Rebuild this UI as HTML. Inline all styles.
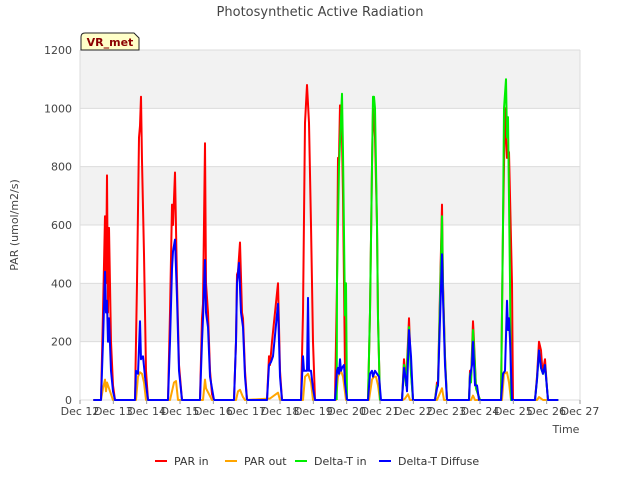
<!DOCTYPE html>
<html><head><meta charset="utf-8"><style>
body{margin:0;background:#fff;font-family:"Liberation Sans",sans-serif}
svg text{font-family:"DejaVu Sans","Liberation Sans",sans-serif}
</style></head><body>
<svg id="chart" width="640" height="480" xmlns="http://www.w3.org/2000/svg">
<rect x="0" y="0" width="640" height="480" fill="#fff"/>
<g id="bands"></g><g id="grid"></g><g id="series"></g><g id="axes"></g>
<text x="320" y="16" text-anchor="middle" font-size="13" fill="#444">Photosynthetic Active Radiation</text>
<text transform="translate(18,225) rotate(-90)" text-anchor="middle" font-size="11" fill="#444">PAR (umol/m2/s)</text>
<text x="566" y="433" text-anchor="middle" font-size="11" fill="#444">Time</text>
<g>
<path d="M81,50 L81,37 Q81,33 85,33 L134,33 L139,38 L139,50 Z" fill="#ffffc8" stroke="#222" stroke-width="1"/>
<text x="110" y="46" text-anchor="middle" font-size="11" font-weight="bold" fill="#8b0000">VR_met</text>
</g>
<g id="legend"></g>
</svg>
<script>
const yTicks=[0,200,400,600,800,1000,1200];
const xTickDays=[12,13,14,15,16,17,18,19,20,21,22,23,24,25,26,27];
const xTickLabels=["Dec 12","Dec 13","Dec 14","Dec 15","Dec 16","Dec 17","Dec 18","Dec 19","Dec 20","Dec 21","Dec 22","Dec 23","Dec 24","Dec 25","Dec 26","Dec 27"];
const seriesNames=["PAR in","PAR out","Delta-T in","Delta-T Diffuse"];
const seriesColors=["#ff0000","#ffa500","#00ee00","#0000ff"];
const parInT=[12.4,12.63,12.69,12.75,12.78,12.81,12.84,12.87,12.93,12.99,13.05,13.65,13.71,13.77,13.80,13.83,13.86,13.92,13.98,14.04,14.64,14.70,14.76,14.79,14.85,14.91,14.97,15.06,15.60,15.66,15.69,15.75,15.78,15.84,15.90,15.96,16.02,16.62,16.68,16.71,16.74,16.80,16.86,16.89,16.95,17.01,17.61,17.67,17.70,17.76,17.85,17.94,18.00,18.06,18.63,18.69,18.75,18.81,18.87,18.93,18.99,19.05,19.65,19.71,19.74,19.77,19.80,19.86,19.89,19.95,20.01,20.64,20.70,20.76,20.79,20.82,20.85,20.91,20.94,21.00,21.66,21.72,21.75,21.78,21.84,21.87,21.93,21.99,22.65,22.71,22.74,22.86,22.89,22.95,23.01,23.67,23.70,23.73,23.79,23.82,23.88,23.94,24.00,24.63,24.69,24.75,24.81,24.87,24.93,24.96,24.99,25.65,25.71,25.77,25.83,25.86,25.89,25.95,26.01,26.04,26.35];
const parInV=[0,0,300,630,400,770,300,590,200,50,0,0,400,900,940,1040,820,500,100,0,0,300,670,600,780,400,120,0,0,280,330,880,400,300,100,20,0,0,200,430,440,540,300,280,100,0,0,150,120,200,300,400,100,0,0,300,950,1080,950,600,200,0,0,400,830,830,1010,900,700,100,0,0,300,800,1000,960,900,600,280,0,0,140,100,50,200,280,100,0,0,60,60,670,400,150,0,0,100,70,270,200,40,20,0,0,600,1000,830,850,550,400,0,0,80,200,170,120,100,140,40,0,0];
const parOutT=[12.4,12.63,12.69,12.75,12.78,12.81,12.87,12.93,12.99,13.68,13.74,13.80,13.86,13.92,13.98,14.70,14.76,14.82,14.88,14.94,15.69,15.75,15.78,15.87,15.96,16.68,16.74,16.80,16.89,16.95,17.70,17.94,18.00,18.69,18.75,18.84,18.93,18.99,19.68,19.74,19.83,19.89,19.98,20.67,20.76,20.82,20.88,20.94,21.00,21.69,21.75,21.84,21.90,22.71,22.86,22.92,23.73,23.79,23.85,24.66,24.72,24.81,24.87,24.93,25.71,25.77,25.83,25.89,26.35];
const parOutV=[0,0,40,70,30,60,40,20,0,0,80,95,90,60,0,0,30,60,65,0,0,70,40,20,0,0,30,35,10,0,5,25,0,0,80,90,60,0,0,80,100,80,0,0,70,80,80,50,0,0,5,20,0,0,40,0,0,15,0,0,90,95,60,0,0,10,5,0,0];
const dtInT=[19.7,19.71,19.77,19.86,19.89,19.95,19.98,20.01,20.64,20.70,20.76,20.79,20.82,20.85,20.91,20.94,21.00,21.66,21.72,21.75,21.78,21.84,21.87,21.93,21.99,22.65,22.71,22.74,22.86,22.89,22.95,23.01,23.67,23.70,23.73,23.79,23.82,23.88,23.94,24.00,24.63,24.69,24.72,24.78,24.81,24.84,24.90,24.93,25.65,25.71,25.77,25.83,25.89,25.95,26.01,26.04,26.35];
const dtInV=[0,400,800,1050,850,290,400,0,0,300,800,1040,1040,1000,600,280,0,0,120,90,50,180,250,90,0,0,50,50,630,380,140,0,0,90,60,240,180,40,20,0,0,600,1000,1100,900,970,400,0,0,70,170,110,90,120,40,0,0];
const dtDifT=[12.4,12.63,12.69,12.75,12.78,12.81,12.84,12.87,12.93,12.99,13.05,13.65,13.68,13.74,13.80,13.83,13.89,13.95,14.04,14.64,14.70,14.76,14.79,14.85,14.91,14.97,15.06,15.60,15.66,15.69,15.75,15.78,15.84,15.90,16.02,16.62,16.68,16.71,16.77,16.83,16.89,16.95,17.01,17.61,17.67,17.73,17.79,17.94,18.00,18.06,18.63,18.69,18.72,18.81,18.84,18.87,18.93,18.99,19.05,19.65,19.71,19.74,19.77,19.80,19.83,19.86,19.92,19.95,20.01,20.64,20.70,20.76,20.79,20.85,20.91,20.97,21.03,21.66,21.72,21.78,21.81,21.87,21.93,21.99,22.65,22.71,22.74,22.86,22.89,22.95,23.01,23.67,23.70,23.76,23.79,23.85,23.91,23.97,24.63,24.69,24.75,24.81,24.84,24.87,24.90,24.96,25.65,25.71,25.77,25.83,25.89,25.95,26.01,26.04,26.35];
const dtDifV=[0,0,200,440,300,340,200,280,100,30,0,0,100,90,270,140,150,80,0,0,200,450,510,550,350,100,0,0,200,280,480,300,250,80,0,0,200,400,470,300,250,80,0,0,120,130,150,330,80,0,0,150,100,100,350,100,100,40,0,0,100,110,90,140,100,110,120,60,0,0,90,100,80,100,90,80,0,0,110,70,30,240,150,0,0,40,50,500,350,120,0,0,80,120,200,50,50,0,0,90,100,340,240,280,210,0,0,70,170,110,90,120,40,0,0];
const X0=80,X1=580,Y0=400,Y1=50,DMIN=12,DMAX=27,VMAX=1200;
const xs=d=>X0+(d-DMIN)/(DMAX-DMIN)*(X1-X0);
const ys=v=>Y0-v/VMAX*(Y0-Y1);
const NS="http://www.w3.org/2000/svg";
function mk(tag,attrs,parent){const e=document.createElementNS(NS,tag);for(const k in attrs)e.setAttribute(k,attrs[k]);parent.appendChild(e);return e;}
const bands=document.getElementById('bands'),grid=document.getElementById('grid'),axes=document.getElementById('axes'),ser=document.getElementById('series'),leg=document.getElementById('legend');
for(let i=0;i<yTicks.length-1;i++){
  if(i%2===1){const b=mk('rect',{x:X0,y:ys(yTicks[i+1]),width:X1-X0,height:ys(yTicks[i])-ys(yTicks[i+1]),fill:'#f2f2f2'},bands);
  
  }
}
yTicks.forEach(v=>{
  const l=mk('line',{x1:X0,x2:X1,y1:ys(v),y2:ys(v),stroke:'#dcdcdc','stroke-width':1},grid);
  
  
  const t=mk('text',{x:X0-8,y:ys(v)+4,'text-anchor':'end','font-size':11,fill:'#444'},axes);t.textContent=v;
  
  
});
mk('line',{x1:X0,x2:X0,y1:Y1,y2:Y0,stroke:'#dcdcdc'},grid);
mk('line',{x1:X1,x2:X1,y1:Y1,y2:Y0,stroke:'#dcdcdc'},grid);
xTickDays.forEach((d,i)=>{
  mk('line',{x1:xs(d),x2:xs(d),y1:Y0,y2:Y0+4,stroke:'#999'},axes);
  const t=mk('text',{x:xs(d),y:Y0+15,'text-anchor':'middle','font-size':11,fill:'#444'},axes);t.textContent=xTickLabels[i];
  
  
});
const allT=[parInT,parOutT,dtInT,dtDifT],allV=[parInV,parOutV,dtInV,dtDifV];
allT.forEach((T,s)=>{
  const d=T.map((t,i)=>(i?'L':'M')+xs(t).toFixed(1)+','+ys(allV[s][i]).toFixed(1)).join(' ');
  const p=mk('path',{d:d,fill:'none',stroke:seriesColors[s],'stroke-width':2,'stroke-linejoin':'round'},ser);
  
  
});
const lx=[155,225,295,379];
seriesNames.forEach((n,i)=>{
  const g=mk('g',{},leg);
  
  
  mk('line',{x1:lx[i],x2:lx[i]+12,y1:461,y2:461,stroke:seriesColors[i],'stroke-width':2},g);
  const t=mk('text',{x:lx[i]+19,y:465,'font-size':11,fill:'#333'},g);t.textContent=n;
});
</script>
</body></html>
